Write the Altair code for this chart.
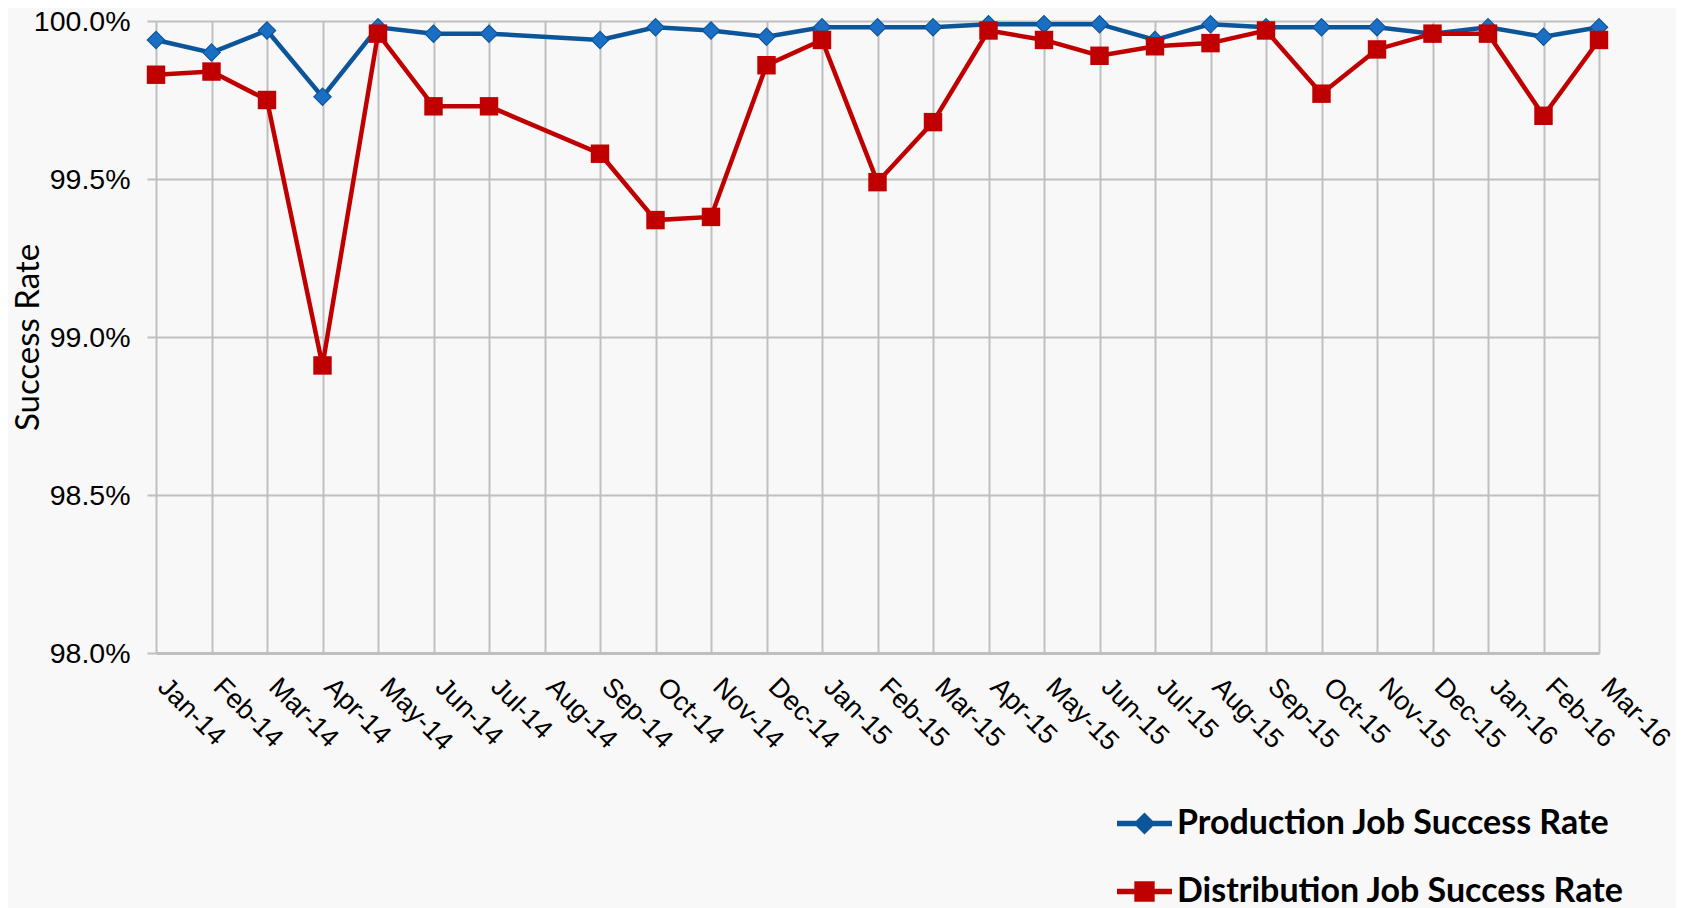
import altair as alt
import pandas as pd

months = ["Jan-14", "Feb-14", "Mar-14", "Apr-14", "May-14", "Jun-14", "Jul-14", "Aug-14",
          "Sep-14", "Oct-14", "Nov-14", "Dec-14", "Jan-15", "Feb-15", "Mar-15", "Apr-15",
          "May-15", "Jun-15", "Jul-15", "Aug-15", "Sep-15", "Oct-15", "Nov-15", "Dec-15",
          "Jan-16", "Feb-16", "Mar-16"]

production = [99.94, 99.90, 99.97, 99.76, 99.98, 99.96, 99.96, None,
              99.94, 99.98, 99.97, 99.95, 99.98, 99.98, 99.98, 99.99,
              99.99, 99.99, 99.94, 99.99, 99.98, 99.98, 99.98, 99.96,
              99.98, 99.95, 99.98]

distribution = [99.83, 99.84, 99.75, 98.91, 99.96, 99.73, 99.73, None,
                99.58, 99.37, 99.38, 99.86, 99.94, 99.49, 99.68, 99.97,
                99.94, 99.89, 99.92, 99.93, 99.97, 99.77, 99.91, 99.96,
                99.96, 99.70, 99.94]

series_names = ["Production Job Success Rate", "Distribution Job Success Rate"]
y_ticks = [98.0, 98.5, 99.0, 99.5, 100.0]

BLUE_LINE = "#0D5599"
BLUE_FILL = "#1A6FC4"
RED = "#C00000"
GRID = "#BFBFBF"

rows = []
for m, p, d in zip(months, production, distribution):
    rows.append({"month": m, "series": series_names[0], "rate": p})
    rows.append({"month": m, "series": series_names[1], "rate": d})
df = pd.DataFrame(rows)

x_enc = alt.X(
    "month:O",
    scale=alt.Scale(type="point", domain=months, padding=0),
    axis=alt.Axis(
        title=None, domain=True, domainColor=GRID, domainWidth=3,
        ticks=False, tickSize=0, grid=True, gridColor=GRID, gridWidth=2,
        labelAngle=45, labelAlign="left", labelBaseline="alphabetic",
        labelFont="Liberation Sans", labelFontSize=27, labelColor="black",
        labelPadding=35, labelOverlap=False, labelBound=False,
    ),
)
y_enc = alt.Y(
    "rate:Q",
    scale=alt.Scale(domain=[98, 100], zero=False, nice=False),
    axis=alt.Axis(
        values=y_ticks, labelExpr="format(datum.value, '.1f') + '%'",
        domain=False, ticks=True, tickSize=9, tickColor=GRID, tickWidth=2,
        grid=True, gridColor=GRID, gridWidth=2,
        labelFont="Liberation Sans", labelFontSize=28.5, labelColor="black",
        labelPadding=17,
        title="Success Rate", titleFont="Lato", titleFontSize=33,
        titleFontWeight="normal", titleColor="black", titleAngle=-90,
        titleX=-118, titleY=316, titleAlign="center", titleBaseline="alphabetic",
    ),
)

base = alt.Chart(df).encode(x=x_enc, y=y_enc)

def only(name):
    return f"datum.series == '{name}' && isValid(datum.rate)"

blue_line = base.transform_filter(only(series_names[0])).mark_line(
    color=BLUE_LINE, strokeWidth=4.5)
blue_pts = base.transform_filter(only(series_names[0])).mark_point(
    shape="diamond", filled=True, fill=BLUE_FILL, stroke=BLUE_LINE,
    strokeWidth=1.2, size=300, opacity=1)
red_line = base.transform_filter(only(series_names[1])).mark_line(
    color=RED, strokeWidth=4.5)
red_pts = base.transform_filter(only(series_names[1])).mark_point(
    shape="square", filled=True, fill=RED, size=340, opacity=1)

path_prod = "M-1,0L1,0M0,-0.26L0.26,0L0,0.26L-0.26,0Z"
path_dist = "M-1,0L1,0M-0.27,-0.27L0.27,-0.27L0.27,0.27L-0.27,0.27Z"

leg = alt.Legend(
    title=None, orient="none", legendX=958, legendY=772,
    symbolSize=3025, symbolStrokeWidth=5.5, symbolOpacity=1,
    labelFont="Lato", labelFontSize=34, labelFontWeight="bold",
    labelColor="black", labelOffset=2, rowPadding=19, padding=0,
    labelLimit=2000,
)

legend_layer = alt.Chart(df).transform_filter("false").mark_point(
    filled=True, opacity=1).encode(
    fill=alt.Fill("series:N", scale=alt.Scale(domain=series_names, range=[BLUE_FILL, RED]), legend=leg),
    stroke=alt.Stroke("series:N", scale=alt.Scale(domain=series_names, range=[BLUE_LINE, RED]), legend=leg),
    shape=alt.Shape("series:N", scale=alt.Scale(domain=series_names, range=[path_prod, path_dist]), legend=leg),
)

chart = alt.layer(blue_line, blue_pts, red_line, red_pts, legend_layer).properties(
    width=1443, height=632, background="#F8F8F8",
    padding={"left": 148, "top": 13, "right": 77, "bottom": 262},
    autosize=alt.AutoSizeParams(type="none"),
).configure_view(stroke=None)

chart.save("out.html", embed_options={"renderer": "svg", "actions": False})
